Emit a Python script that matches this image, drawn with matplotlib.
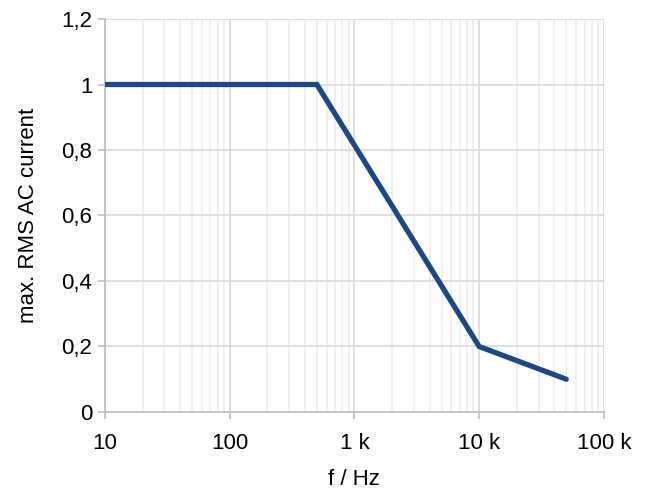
import matplotlib
matplotlib.use('Agg')
from matplotlib import pyplot as plt
from matplotlib.ticker import LogLocator, NullFormatter
import numpy as np

plt.rcParams['font.family'] = ['Liberation Sans', 'DejaVu Sans']

freq = [10, 500, 10000, 50000]
current = [1.0, 1.0, 0.2, 0.1]

x_ticks = [10, 100, 1000, 10000, 100000]
x_labels = ['10', '100', '1 k', '10 k', '100 k']
y_ticks = [0, 0.2, 0.4, 0.6, 0.8, 1.0, 1.2]
y_labels = ['0', '0,2', '0,4', '0,6', '0,8', '1', '1,2']

fig = plt.figure(figsize=(6.5, 4.95), dpi=100)
ax = fig.add_axes([0.1615, 0.1677, 0.7675, 0.7939])

ax.plot(freq, current, color='#1F497D', linewidth=3.8, solid_capstyle='round',
        solid_joinstyle='miter', zorder=3)

ax.set_xscale('log')
ax.set_xlim(10, 100000)
ax.set_ylim(0, 1.2)
ax.set_xticks(x_ticks)
ax.set_xticklabels(x_labels)
ax.xaxis.set_minor_locator(LogLocator(base=10, subs=np.arange(2, 10)))
ax.xaxis.set_minor_formatter(NullFormatter())
ax.set_yticks(y_ticks)
ax.set_yticklabels(y_labels)

ax.grid(which='major', color='#D9D9D9', linewidth=1.2)
ax.grid(which='minor', axis='x', color='#EEEEEE', linewidth=1.2)
ax.set_axisbelow(True)

for s in ['top', 'right']:
    ax.spines[s].set_visible(False)
ax.spines['left'].set_color('#BFBFBF')
ax.spines['bottom'].set_color('#BFBFBF')
ax.spines['left'].set_linewidth(1.2)
ax.spines['bottom'].set_linewidth(1.2)
ax.tick_params(which='major', length=5, width=1.2, color='#BFBFBF', labelsize=16)
ax.tick_params(axis='x', pad=10)
ax.tick_params(axis='y', pad=4)
ax.tick_params(which='minor', length=0)

ax.set_xlabel('f / Hz', fontsize=16, labelpad=11)
ax.set_ylabel('max. RMS AC current', fontsize=16, labelpad=16)

fig.savefig('out.png', dpi=100)
